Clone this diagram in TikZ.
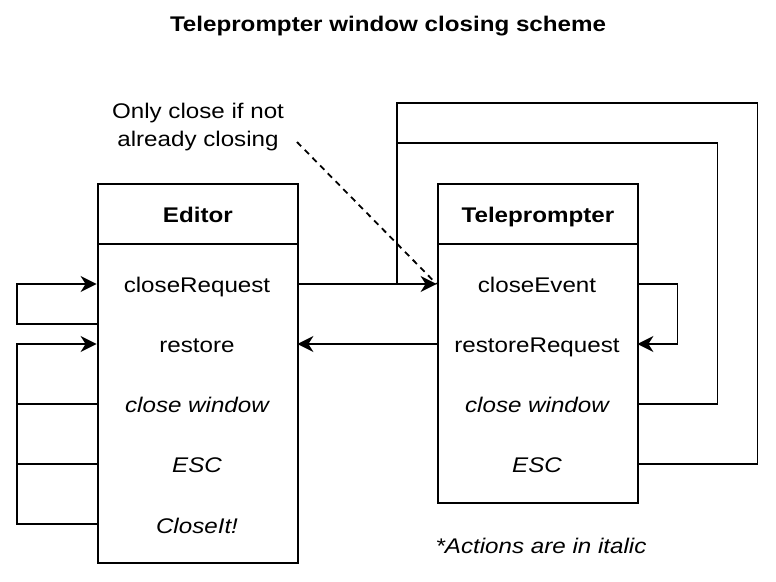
\documentclass[tikz,border=0pt]{standalone}
\usepackage{fontspec}
\setmainfont[FakeStretch=1.14]{Liberation Sans}
\usetikzlibrary{arrows.meta,positioning}
\newcommand\diafont{\fontsize{10.6}{13}\selectfont}

\begin{document}
\begin{tikzpicture}[
  x=0.5pt, y=-0.5pt,
  font=\diafont,
  frame/.style={draw, line width=0.9pt, minimum width=100pt, inner sep=0pt, anchor=north west},
  head/.style={minimum width=100pt, minimum height=30pt, inner sep=0pt, anchor=north,
               text height=11pt, text depth=2pt, font=\diafont\bfseries},
  row/.style={minimum width=100pt, minimum height=30pt, inner sep=0pt,
              text height=11pt, text depth=2pt},
  act/.style={row, font=\diafont\itshape},
  wire/.style={line width=0.9pt},
  arr/.style={wire, -{Stealth[length=8pt, width=8pt, inset=2.5pt]}},
  hint/.style={wire, dash pattern=on 3pt off 2.5pt},
]
  \useasboundingbox (0,0) rectangle (776,582);

  % Title
  \node[text height=11pt, text depth=2pt, font=\diafont\bfseries] (title) at (388,23) {Teleprompter window closing scheme};

  % Editor window
  \node[frame, minimum height=189.5pt] (editor) at (97,183) {};
  \node[head] (edhead) at (editor.north) {Editor};
  \draw[wire] (edhead.south west) -- (edhead.south east);
  \node[row] (edclose) at (197,284) {closeRequest};
  \node[row] (edrestore) at (197,344) {restore};
  \node[act] (edwin) at (197,404) {close window};
  \node[act] (edesc) at (197,464) {ESC};
  \node[act] (edcloseit) at (197,524) {CloseIt!};

  % Teleprompter window
  \node[frame, minimum height=159.5pt] (prompter) at (437,183) {};
  \node[head] (tphead) at (prompter.north) {Teleprompter};
  \draw[wire] (tphead.south west) -- (tphead.south east);
  \node[row] (tpclose) at (537,284) {closeEvent};
  \node[row] (tprestore) at (537,344) {restoreRequest};
  \node[act] (tpwin) at (537,404) {close window};
  \node[act] (tpesc) at (537,464) {ESC};

  % Notes
  \node[align=center, inner sep=0pt, font=\fontsize{10.6}{14}\selectfont] (note) at (198,127) {Only close if not\\already closing};
  \node[text height=11pt, text depth=2pt, font=\diafont\itshape] (legend) at (541,544) {*Actions are in italic};
  \coordinate (notetip) at (297,142);
  \coordinate (tap) at (397,284);

  % Editor loops
  \draw[arr] ([yshift=-20pt]edclose.west) -- ++(-80,0) |- (edclose.west);
  \draw[wire] (edwin.west) -- ++(-80,0);
  \draw[wire] (edesc.west) -- ++(-80,0);
  \draw[arr] (edcloseit.west) -- ++(-80,0) |- (edrestore.west);

  % Between windows
  \draw[arr] (edclose.east) -- (tpclose.west);
  \draw[arr] (tprestore.west) -- (edrestore.east);
  \draw[hint] (notetip) -- (tpclose.west);

  % Teleprompter loops
  \draw[arr] (tpclose.east) -- ++(40,0) |- (tprestore.east);
  \draw[wire] (tpwin.east) -- ++(80,0) |- ([yshift=70.5pt]tap) -- (tap);
  \draw[wire] (tpesc.east) -- ++(120,0) |- ([yshift=90.5pt]tap) -- (tap);
\end{tikzpicture}
\end{document}
